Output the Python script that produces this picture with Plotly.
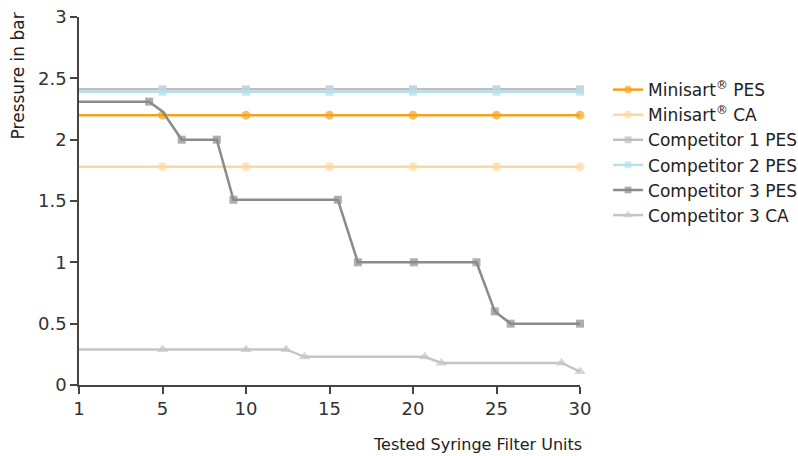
import plotly.graph_objects as go

# Data
tick_vals = [0, 5, 10, 15, 20, 25, 30]
tick_text = ["1", "5", "10", "15", "20", "25", "30"]
y_tick_vals = [0, 0.5, 1, 1.5, 2, 2.5, 3]
y_tick_text = ["0", "0.5", "1", "1.5", "2", "2.5", "3"]

flat_x = [0, 5, 10, 15, 20, 25, 30]
minisart_pes = [2.2, 2.2, 2.2, 2.2, 2.2, 2.2, 2.2]
minisart_ca = [1.78, 1.78, 1.78, 1.78, 1.78, 1.78, 1.78]
comp1_pes = [2.41, 2.41, 2.41, 2.41, 2.41, 2.41, 2.41]
comp2_pes = [2.39, 2.39, 2.39, 2.39, 2.39, 2.39, 2.39]

comp3_pes_x = [0, 4.2, 5, 6.15, 8.25, 9.25, 15.5, 16.7, 20.05, 23.8, 24.9, 25.85, 30]
comp3_pes_y = [2.31, 2.31, 2.23, 2.0, 2.0, 1.51, 1.51, 1.0, 1.0, 1.0, 0.6, 0.5, 0.5]

comp3_ca_x = [0, 5, 10, 12.4, 13.5, 20.7, 21.7, 28.9, 30]
comp3_ca_y = [0.29, 0.29, 0.29, 0.29, 0.23, 0.23, 0.18, 0.18, 0.11]

series = [
    ("Minisart<sup>®</sup> PES", flat_x, minisart_pes, "#F7A21B", "circle", 9),
    ("Minisart<sup>®</sup> CA", flat_x, minisart_ca, "#FDD7A0", "circle", 9),
    ("Competitor 1 PES", flat_x, comp1_pes, "#BDBEC0", "square", 8),
    ("Competitor 2 PES", flat_x, comp2_pes, "#B4E1EC", "square", 8),
    ("Competitor 3 PES", comp3_pes_x, comp3_pes_y, "#8A8B8E", "square", 8),
    ("Competitor 3 CA", comp3_ca_x, comp3_ca_y, "#C4C5C7", "triangle-up", 10),
]

FONT = "DejaVu Sans, sans-serif"

fig = go.Figure()
for name, xs, ys, color, sym, sz in series:
    sizes = [0] + [sz] * (len(xs) - 1)
    if name == "Competitor 3 PES":
        sizes[2] = 0
    fig.add_trace(go.Scatter(
        x=xs, y=ys, name=name, mode="lines+markers",
        line=dict(color=color, width=2.5),
        marker=dict(color=color, symbol=sym, size=sizes, line=dict(width=0)),
        cliponaxis=False,
    ))

fig.update_layout(
    width=798, height=456,
    margin=dict(l=79, r=218, t=17, b=71, autoexpand=False),
    paper_bgcolor="white", plot_bgcolor="white",
    font=dict(family=FONT, size=17, color="#333333"),
    showlegend=True,
    legend=dict(xref="container", yref="container", x=0.762, y=0.842,
                xanchor="left", yanchor="top",
                font=dict(family=FONT, size=17, color="#222222"), tracegroupgap=0,
                itemwidth=30, bgcolor="rgba(0,0,0,0)"),
    xaxis=dict(range=[0, 30], tickvals=tick_vals, ticktext=tick_text,
               showgrid=False, zeroline=False, showline=True,
               linecolor="#444444", linewidth=1.5, ticks="outside",
               ticklen=7, tickcolor="#444444", tickwidth=1.5,
               tickfont=dict(family=FONT, size=18, color="#333333")),
    yaxis=dict(range=[0, 3], tickvals=y_tick_vals, ticktext=y_tick_text,
               showgrid=False, zeroline=False, showline=True,
               linecolor="#444444", linewidth=1.5, ticks="outside",
               ticklen=7, tickcolor="#444444", tickwidth=1.5,
               ticklabeloverflow="allow",
               tickfont=dict(family=FONT, size=18, color="#333333")),
    annotations=[
        dict(text="Pressure in bar", xref="paper", yref="paper",
             x=-0.122, y=1.019, xanchor="center", yanchor="top",
             textangle=-90, showarrow=False,
             font=dict(family=FONT, size=17, color="#222222")),
        dict(text="Tested Syringe Filter Units", xref="paper", yref="paper",
             x=1.008, y=-0.163, xanchor="right", yanchor="middle",
             showarrow=False, font=dict(family=FONT, size=16, color="#222222")),
    ],
)

fig.write_html("out.html", config={"displayModeBar": False},
               post_script="document.body.style.margin='0';")
